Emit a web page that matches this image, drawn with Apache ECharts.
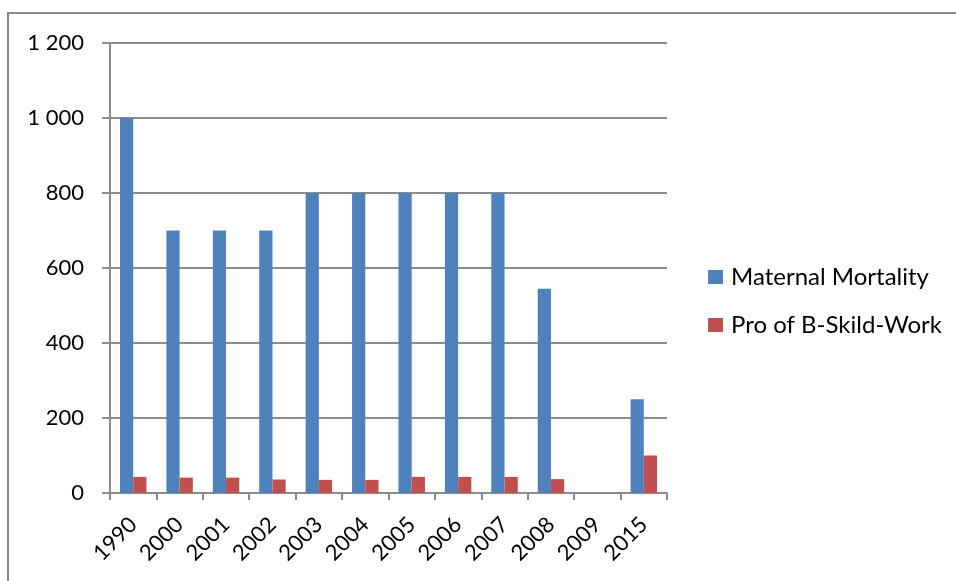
<!DOCTYPE html>
<html>
<head>
<meta charset="utf-8">
<script src="https://cdn.jsdelivr.net/npm/echarts@6/dist/echarts.min.js"></script>
<style>
  html, body { margin: 0; padding: 0; background: #fff; }
  #chart { width: 956px; height: 581px; }
</style>
</head>
<body>
<div id="chart"></div>
<script>
// Years on the category axis
const years = ['1990', '2000', '2001', '2002', '2003', '2004', '2005', '2006', '2007', '2008', '2009', '2015'];
// Maternal mortality (no figure for 2009)
const maternalMortality = [1000, 700, 700, 700, 800, 800, 800, 800, 800, 545, null, 250];
// Proportion of births with skilled attendance
const skilledWork = [43, 41, 41, 36, 35, 35, 43, 43, 43, 37, null, 100];
// Value axis ticks
const yTicks = [0, 200, 400, 600, 800, 1000, 1200];

const FONT = 'Lato, "Open Sans", sans-serif';
const AXIS_GRAY = '#8c8c8c';
const TEXT = '#000000';

function spaced(v) {
  return String(v).replace(/\B(?=(\d{3})+(?!\d))/g, ' ');
}

const chart = echarts.init(document.getElementById('chart'), null, { renderer: 'canvas' });
chart.setOption({
  animation: false,
  backgroundColor: '#ffffff',
  textStyle: { fontFamily: FONT },
  graphic: [
    { type: 'polyline', shape: { points: [[8, 581], [8, 13], [956, 13]] },
      style: { stroke: '#888888', lineWidth: 2, fill: null } }
  ],
  grid: { left: 110, top: 43, right: 289, bottom: 88, containLabel: false },
  legend: {
    orient: 'vertical',
    left: 708, top: 265, padding: 0,
    itemWidth: 15, itemHeight: 14, itemGap: 24,
    icon: 'rect',
    textStyle: { fontSize: 24, lineHeight: 24, color: TEXT, fontFamily: FONT, padding: [0, 0, 0, 3] },
    data: ['Maternal Mortality', 'Pro of B-Skild-Work']
  },
  xAxis: {
    type: 'category',
    data: years,
    axisLine: { lineStyle: { color: AXIS_GRAY, width: 2 } },
    axisTick: { show: true, length: 7, alignWithLabel: false, lineStyle: { color: AXIS_GRAY, width: 2 } },
    axisLabel: { rotate: 45, fontSize: 22, color: TEXT, margin: 28, interval: 0, fontFamily: FONT },
    splitLine: { show: false }
  },
  yAxis: {
    type: 'value',
    min: yTicks[0], max: yTicks[yTicks.length - 1], interval: 200,
    axisLine: { show: true, lineStyle: { color: AXIS_GRAY, width: 2 } },
    axisTick: { show: true, length: 8, lineStyle: { color: AXIS_GRAY, width: 2 } },
    axisLabel: { fontSize: 22, color: TEXT, margin: 26, fontFamily: FONT, formatter: v => spaced(v) },
    splitLine: { show: true, lineStyle: { color: AXIS_GRAY, width: 2 } }
  },
  series: [
    {
      name: 'Maternal Mortality', type: 'bar', data: maternalMortality,
      itemStyle: { color: '#4f81bd' }, barGap: '0%', barCategoryGap: '43%'
    },
    {
      name: 'Pro of B-Skild-Work', type: 'bar', data: skilledWork,
      itemStyle: { color: '#c0504d' }, barGap: '0%', barCategoryGap: '43%'
    }
  ]
});
</script>
</body>
</html>
